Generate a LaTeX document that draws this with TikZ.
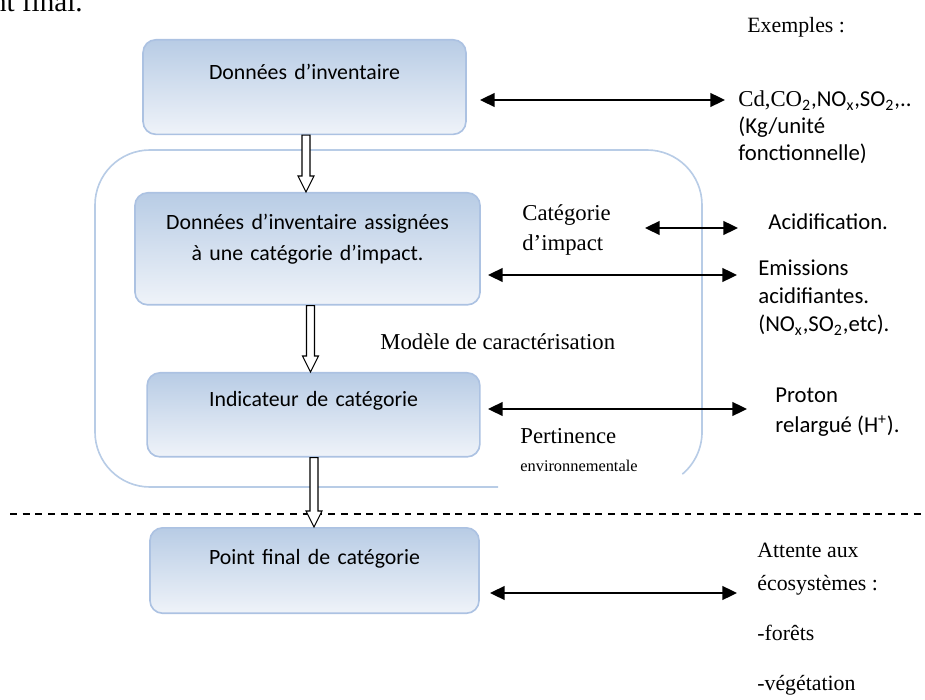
\documentclass[tikz,border=0pt]{standalone}
\usepackage{fontspec}
\setmainfont{Liberation Serif}
\newfontfamily\calib{Carlito}
\usetikzlibrary{arrows.meta,calc}

\definecolor{boxtop}{RGB}{184,204,229}
\definecolor{boxbot}{RGB}{239,243,249}
\definecolor{boxline}{RGB}{172,194,226}
\definecolor{frameline}{RGB}{184,204,230}

\tikzset{
  stage/.style={draw=boxline, line width=0.9pt, rounded corners=7pt,
    top color=boxtop, bottom color=boxbot, align=center, inner sep=0pt,
    anchor=north, font=\calib\fontsize{12}{17}\selectfont},
  txt/.style={anchor=base west, inner sep=0pt, align=left},
  sans/.style={txt, font=\calib\fontsize{12.5}{15.4}\selectfont},
  serif/.style={txt, font=\fontsize{12.5}{16.5}\selectfont},
  link/.style={{Triangle[length=8pt,width=7.5pt]}-{Triangle[length=8pt,width=7.5pt]},
    line width=1.1pt},
  hollow/.style={draw, fill=white, line width=0.6pt, line join=miter},
}

% hollow arrow pointing down, from #1 to #2
\newcommand{\hollowarrow}[2]{%
  \draw[hollow] let \p1=(#1), \p2=(#2), \n1={(\x1+\x2)/2} in
    (\n1-2.2pt,\y1) -- (\n1+2.2pt,\y1) -- (\n1+2.2pt,\y2+8.8pt) -- (\n1+4.4pt,\y2+8.8pt)
    -- (\n1,\y2) -- (\n1-4.4pt,\y2+8.8pt) -- (\n1-2.2pt,\y2+8.8pt) -- cycle;}

\begin{document}
\begin{tikzpicture}[x=0.55pt, y=0.55pt]

\useasboundingbox (0,0) rectangle (925,-700);

% frame round the impact steps
\draw[frameline, line width=0.9pt] (498,-487) -- (150,-487)
  arc[start angle=270, end angle=180, radius=30.25pt] -- (95,-205)
  arc[start angle=180, end angle=90, radius=30.25pt] -- (647,-150)
  arc[start angle=90, end angle=0, radius=30.25pt] -- (702,-432)
  arc[start angle=0, end angle=-50, radius=30.25pt];

\draw[line width=0.7pt, dash pattern=on 3.8pt off 3.2pt] (10,-514) -- (925,-514);

\node[stage, text width=177.6pt, text height=22pt, text depth=30pt] (stage-1) at (304.5,-39)
  {Données d’inventaire};
\node[stage, text width=189.8pt, text height=20pt, text depth=41.6pt] (stage-2) at (307.5,-192)
  {Données d’inventaire assignées\\à une catégorie d’impact.};
\node[stage, text width=183pt, text height=18.7pt, text depth=27.5pt] (stage-3) at (313.5,-372)
  {Indicateur de catégorie};
\node[stage, text width=181pt, text height=20pt, text depth=27pt] (stage-4) at (314.5,-527)
  {Point final de catégorie};

\hollowarrow{stage-1.south}{stage-2.north}
\hollowarrow{stage-2.south}{stage-3.north}
\hollowarrow{stage-3.south}{stage-4.north}

% multi-line texts: placed at the baseline of their last line
\node[serif, font=\fontsize{16}{18}\selectfont, anchor=base east] (prev) at (83,-12) {nt final.};
\node[serif, font=\fontsize{12}{14}\selectfont] (ex) at (747,-33) {Exemples :};
\node[sans, font=\calib\fontsize{12.5}{14.9}\selectfont] (subst) at (738,-161)
  {{\rmfamily Cd,CO}\textsubscript{2},NO\textsubscript{x},SO\textsubscript{2},..\\(Kg/unité\\fonctionnelle)};
\node[serif] (cat) at (522,-251) {Catégorie\\d’impact};
\node[sans] (acid) at (768,-230) {Acidification.};
\node[sans] (emis) at (758,-332)
  {Emissions\\acidifiantes.\\(NO\textsubscript{x},SO\textsubscript{2},etc).};
\node[serif] (model) at (380,-350) {Modèle de caractérisation};
\node[sans, font=\calib\fontsize{12.5}{16.5}\selectfont] (proton) at (775,-432)
  {Proton\\relargué (H\textsuperscript{+}).};
\node[serif, font=\fontsize{12.5}{15.4}\selectfont] (pert) at (520,-471)
  {Pertinence\\{\fontsize{9}{10}\selectfont environnementale}};
\node[serif, font=\fontsize{12}{18}\selectfont] (harm) at (757,-690)
  {Attente aux\\écosystèmes :\\[10pt]-forêts\\[9pt]-végétation};

\coordinate (l-1) at (480,-100); \coordinate (r-1) at (725,-100);
\coordinate (l-2) at (645,-228); \coordinate (r-2) at (738,-228);
\coordinate (l-3) at (488,-275); \coordinate (r-3) at (737,-275);
\coordinate (l-4) at (488,-409); \coordinate (r-4) at (747,-409);
\coordinate (l-5) at (490,-593); \coordinate (r-5) at (737,-593);

\foreach \i in {1,...,5}
  \draw[link] (l-\i) -- (r-\i);

\end{tikzpicture}
\end{document}
